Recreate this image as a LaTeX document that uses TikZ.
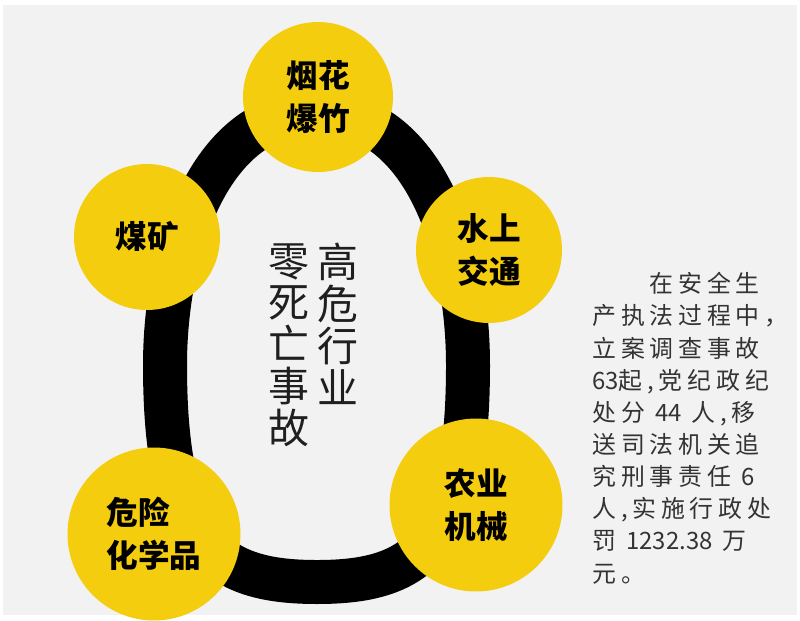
\documentclass[tikz,border=0pt]{standalone}
\usepackage{fontspec}
\newfontfamily\cjk{Noto Sans CJK SC}
\newfontfamily\cjknote[LetterSpace=20]{Noto Sans CJK SC}
\newcommand\num[1]{{\cjk #1}}
\definecolor{dotyellow}{RGB}{245,205,15}
\definecolor{panelgray}{RGB}{242,242,242}

\begin{document}
\begin{tikzpicture}[
  x=0.02cm, y=-0.02cm,
  ring/.style={line width=0.88cm, black},
  topic/.style={circle, fill=dotyellow, inner sep=0pt, align=center,
    font=\cjk\bfseries\fontsize{18}{24.4}\selectfont},
  small/.style={topic, minimum size=2.92cm},
  big/.style={topic, minimum size=3.46cm},
  title/.style={anchor=north, inner sep=0pt, align=center, text=black!88,
    font=\cjk\fontsize{23.3}{23.8}\selectfont},
  note/.style={anchor=north west, inner sep=0pt, align=left, text=black!80,
    font=\cjknote\fontsize{13.6}{18.3}\selectfont},
]
  % Background panel
  \fill[white] (0,0) rectangle (800,619);
  \fill[panelgray] (3,5) rectangle (797,615);

  % Ring
  \draw[ring] (317,112) .. controls (425,112) and (468,250) .. (468,365)
    .. controls (468,545) and (419,582) .. (317,582)
    .. controls (215,582) and (165,545) .. (165,365)
    .. controls (165,250) and (209,112) .. cycle;

  % Industries
  \node[small, minimum size=3cm] (fireworks) at (318,97) {烟花\\爆竹};
  \node[small] (coal)  at (147,237) {煤矿};
  \node[small] (water) at (489,250) {水上\\交通};
  \node[big]   (farm)  at (476,505) {农业\\机械};
  \node[big, align=left] (chem) at (154,534) {危险\\化学品};

  % Title
  \node[title] (title1) at (338,243) {高\\危\\行\\业};
  \node[title] (title2) at (289,243) {零\\死\\亡\\事\\故};

  % Note
  \node[note] (note) at (592,272) {　　在安全生\\产执法过程中，\\立案调查事故\\\num{63}起,党纪政纪\\处分 \num{44} 人,移\\送司法机关追\\究刑事责任 \num{6}\\人,实施行政处\\罚 \num{1232.38} 万\\元。};
\end{tikzpicture}
\end{document}
